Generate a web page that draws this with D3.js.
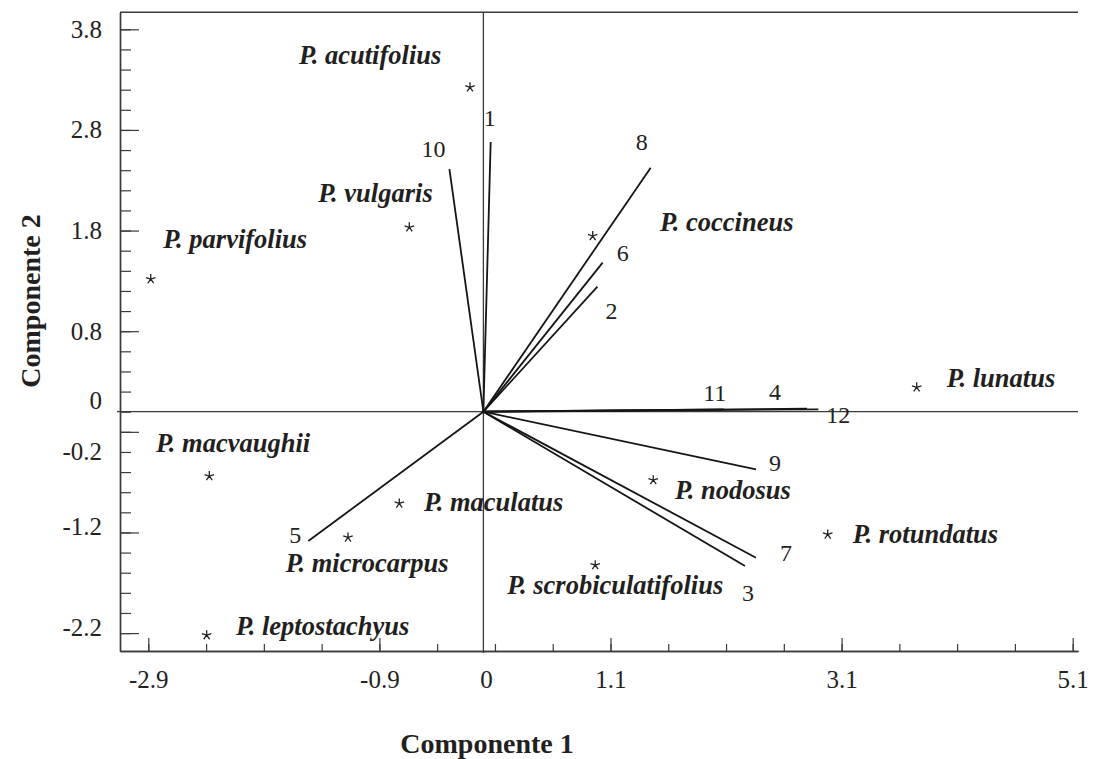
<!DOCTYPE html>
<html><head><meta charset="utf-8">
<script src="https://cdn.jsdelivr.net/npm/d3@7"></script>
<style>body{margin:0;background:#fff} svg{display:block}</style>
</head><body><svg id="chart" width="1094" height="759"></svg>
<script>
// ---- data ----
const speciesNames = ["P. acutifolius","P. vulgaris","P. parvifolius","P. coccineus","P. lunatus","P. macvaughii","P. maculatus","P. microcarpus","P. leptostachyus","P. nodosus","P. scrobiculatifolius","P. rotundatus"];
const speciesPC1 = [-0.116,-0.641,-2.879,0.946,3.750,-2.372,-0.728,-1.172,-2.395,1.470,0.968,2.980];
const speciesPC2 = [3.224,1.832,1.318,1.746,0.242,-0.640,-0.912,-1.250,-2.221,-0.680,-1.525,-1.220];
const variableIds = ["1","2","3","4","5","6","7","8","9","10","11","12"];
const variablePC1 = [0.063,0.987,2.264,2.800,-1.515,1.032,2.359,1.448,2.359,-0.294,2.080,2.899];
const variablePC2 = [2.681,1.243,-1.534,0.030,-1.285,1.481,-1.451,2.425,-0.573,2.410,0.022,0.024];
const xTickLabels = [-2.9,-0.9,1.1,3.1,5.1];
const yTickLabels = [3.8,2.8,1.8,0.8,-0.2,-1.2,-2.2];
const xTitle = "Componente 1";
const yTitle = "Componente 2";

// ---- layout (pixels) ----
const speciesLabelOffset = [[-171,-23],[-91,-25.6],[12.6,-30.7],[67.3,-5.3],[30,-0.6],[-53.3,-23.7],[24.7,7.4],[-62.3,34.4],[29.3,0],[21.7,19.3],[-88,29],[25,9]];
const variableLabelOffset = [[-1,-24],[14,24],[3,27],[-32,-17],[-13,-6],[20,-10],[30,-5],[-9,-26],[19,-7],[-16,-21],[-9,-17],[20,5]];
const yLabelNudge = {"0":-11,"-0.2":20,"-1.2":-6,"-2.2":-6};

const svg = d3.select("#chart");
const serif = "'Liberation Serif','Times New Roman',serif";
const x = d3.scaleLinear().domain([-3.145, 5.146]).range([120, 1078]);
const y = d3.scaleLinear().domain([3.969, -2.378]).range([12.3, 651]);
const axisColor = "#3a3a3a";

// top border
svg.append("line").attr("x1",120).attr("x2",1078).attr("y1",y.range()[0]).attr("y2",y.range()[0])
  .attr("stroke",axisColor).attr("stroke-width",1.4);

// X axis: minor + major
const gxMinor = svg.append("g").attr("transform",`translate(0,${y.range()[1]})`)
  .call(d3.axisBottom(x).tickValues(d3.range(-2.9,5.11,0.5)).tickSize(-7).tickSizeOuter(0).tickFormat(""));
const gxMajor = svg.append("g").attr("transform",`translate(0,${y.range()[1]})`)
  .call(d3.axisBottom(x).tickValues(xTickLabels).tickSize(-13).tickSizeOuter(0).tickPadding(19).tickFormat(d=>String(d)));
gxMajor.append("text").attr("x",x(0)+3).attr("y",19).attr("dy","0.71em").attr("text-anchor","middle").text("0");

// Y axis: minor + major
const gyMinor = svg.append("g").attr("transform",`translate(${x.range()[0]},0)`)
  .call(d3.axisLeft(y).tickValues(d3.range(-2.2,3.81,0.2)).tickSize(-11).tickSizeOuter(0).tickFormat(""));
const gyMajor = svg.append("g").attr("transform",`translate(${x.range()[0]},0)`)
  .call(d3.axisLeft(y).tickValues(yTickLabels).tickSize(-19).tickSizeOuter(0).tickPadding(18).tickFormat(d=>String(d)));
gyMajor.append("text").attr("x",-18).attr("y",y(0)).attr("dy","0.32em").attr("text-anchor","end").text("0")
  .attr("class","zero");

[gxMinor,gxMajor,gyMinor,gyMajor].forEach(g=>{
  g.selectAll("path.domain").attr("stroke",axisColor).attr("stroke-width",1.4);
  g.selectAll(".tick line").attr("stroke",axisColor).attr("stroke-width",1.2);
  g.selectAll("text").attr("fill","#222").style("font-family",serif).style("font-size","25px");
});
gyMajor.selectAll(".tick text").attr("transform",d=>`translate(0,${yLabelNudge[String(d)]||0})`);
gyMajor.select("text.zero").attr("transform",`translate(0,${yLabelNudge["0"]})`);

// zero lines
svg.append("line").attr("x1",x(0)).attr("x2",x(0)).attr("y1",y.range()[0]).attr("y2",y.range()[1]+2)
  .attr("stroke",axisColor).attr("stroke-width",1.3);
svg.append("line").attr("x1",117).attr("x2",1078).attr("y1",y(0)).attr("y2",y(0))
  .attr("stroke",axisColor).attr("stroke-width",1.3);

// vectors
const vars = variableIds.map((id,i)=>({id,pc1:variablePC1[i],pc2:variablePC2[i],off:variableLabelOffset[i]}));
svg.append("g").selectAll("line").data(vars).join("line")
  .attr("x1",x(0)).attr("y1",y(0)).attr("x2",d=>x(d.pc1)).attr("y2",d=>y(d.pc2))
  .attr("stroke","#151515").attr("stroke-width",1.8);
svg.append("g").selectAll("text").data(vars).join("text")
  .attr("x",d=>x(d.pc1)+d.off[0]).attr("y",d=>y(d.pc2)+d.off[1]).attr("dy","0.35em")
  .attr("text-anchor","middle").attr("fill","#222")
  .style("font-family",serif).style("font-size","24px").text(d=>d.id);

// species
const sp = speciesNames.map((n,i)=>({n,pc1:speciesPC1[i],pc2:speciesPC2[i],off:speciesLabelOffset[i]}));
const starPath = (()=>{const r=5;let p="";for(let k=0;k<5;k++){const a=-Math.PI/2+k*2*Math.PI/5;p+=`M0,0L${(r*Math.cos(a)).toFixed(2)},${(r*Math.sin(a)).toFixed(2)}`;}return p;})();
svg.append("g").selectAll("path").data(sp).join("path")
  .attr("transform",d=>`translate(${x(d.pc1)},${y(d.pc2)})`).attr("d",starPath)
  .attr("stroke","#222").attr("stroke-width",1.3).attr("fill","none");
svg.append("g").selectAll("text").data(sp).join("text")
  .attr("x",d=>x(d.pc1)+d.off[0]).attr("y",d=>y(d.pc2)+d.off[1])
  .attr("fill","#231f20").style("font-family",serif).style("font-size","26.5px")
  .style("font-weight","bold").style("font-style","italic").text(d=>d.n);

// titles
svg.append("text").attr("x",487).attr("y",753).attr("text-anchor","middle")
  .style("font-family",serif).style("font-size","28px").style("font-weight","bold").attr("fill","#231f20").text(xTitle);
svg.append("text").attr("transform","translate(40,301) rotate(-90)").attr("text-anchor","middle")
  .style("font-family",serif).style("font-size","28px").style("font-weight","bold").attr("fill","#231f20").text(yTitle);
</script></body></html>
